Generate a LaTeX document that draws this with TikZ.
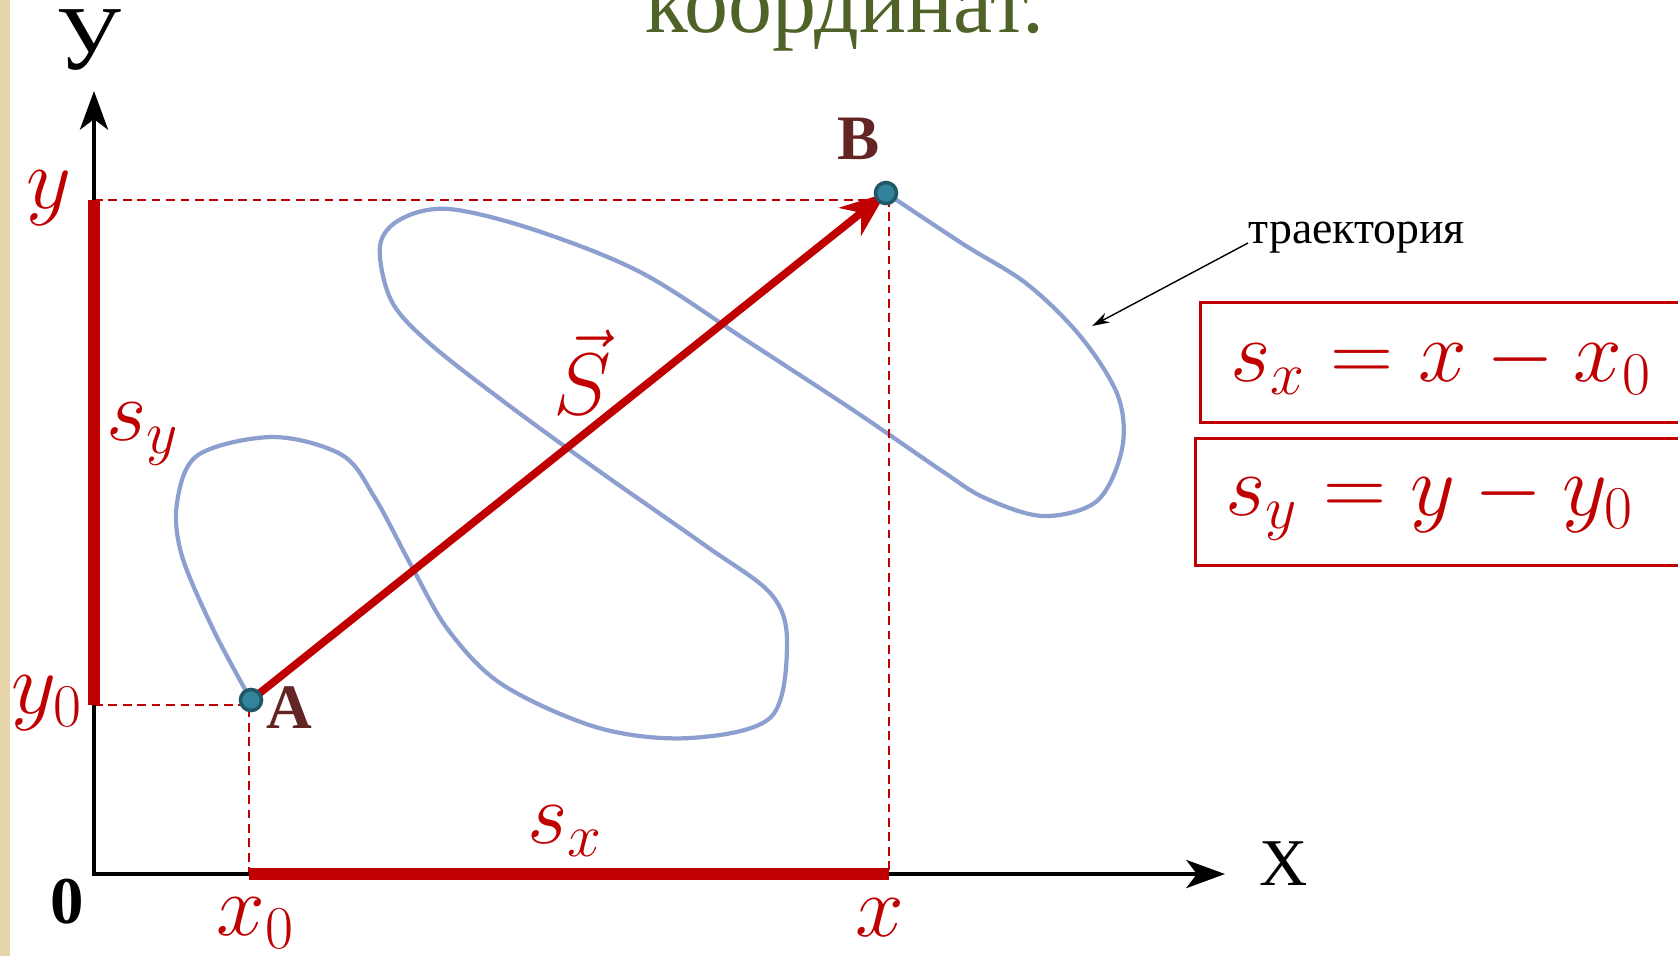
\documentclass[tikz,border=0pt]{standalone}
\usepackage{fontspec}
\setmainfont{Liberation Serif}
\usepackage{amsmath}
\usetikzlibrary{arrows.meta}
\usetikzlibrary{backgrounds}
\definecolor{colR}{HTML}{C00000}
\definecolor{colB}{HTML}{8C9FCF}
\definecolor{colT}{HTML}{31849B}
\definecolor{colT2}{HTML}{215868}
\definecolor{colD}{HTML}{632523}
\definecolor{colG}{HTML}{4F6228}
\definecolor{colS}{HTML}{E5D5A9}

\begin{document}
\begin{tikzpicture}[x=0.01cm, y=-0.01cm]
    \tikzstyle{pnt} = [circle, fill=colT, draw=colT2, line width=1pt, inner sep=0pt, minimum size=6pt];
    \tikzstyle{lbl} = [colR, font=\fontsize{24}{28}\selectfont, inner sep=0pt];
    \tikzstyle{big} = [colD, font=\bfseries\fontsize{18}{20}\selectfont, inner sep=0pt];
    \tikzstyle{axl} = [font=\fontsize{19}{22}\selectfont, inner sep=0pt];
    \tikzstyle{eqb} = [draw=colR, line width=0.85pt, colR, font=\fontsize{24}{28}\selectfont, anchor=north west, text width=4.6cm, inner xsep=0.3cm, align=left];
    \tikzstyle{dsh} = [colR, line width=0.6pt, dash pattern=on 2.5pt off 1.6pt];
    \useasboundingbox (0,0) rectangle (1678,956);
    \fill[colS] (0,0) rectangle (10,956);

    \coordinate (O)  at (94,874);
    \coordinate (Xe) at (1225,874);
    \coordinate (Ye) at (94,91);
    \coordinate (yA) at (94,705);
    \coordinate (yB) at (94,200);
    \coordinate (xA) at (249,874);
    \coordinate (xB) at (889,874);
    \coordinate (cA) at (249,705);
    \coordinate (cB) at (889,200);
    \coordinate (tip) at (1092,326);

    \node (A) at (251,700) [pnt]{};
    \node (B) at (886,193) [pnt]{};

    \node (lA)  at (289,708) [big]{A};
    \node (lB)  at (859,139) [big]{B};
    \node (l0)  at (67,902)  [axl, font=\bfseries\fontsize{19}{22}\selectfont]{0};
    \node (lY)  at (89,40)   [axl, font=\fontsize{26}{30}\selectfont]{У};
    \node (lX)  at (1284,864) [axl]{Х};
    \node (y_1) at (49,198)  [lbl]{$y$};
    \node (y_0) at (47,703)  [lbl]{$y_0$};
    \node (x_0) at (256,923) [lbl]{$x_0$};
    \node (x_1) at (880,918) [lbl]{$x$};
    \node (s_x) at (565,831) [lbl]{$s_x$};
    \node (s_y) at (143,434) [lbl]{$s_y$};
    \node (vS)  at (582,372) [lbl]{$\vec{S}$};

    \node (eqx) at (1199,301) [eqb, minimum height=1.2cm]{$s_x = x - x_0$};
    \node (eqy) at (1194,437) [eqb, minimum height=1.27cm]{$s_y = y - y_0$};

    \node (traj) at (1248,243) [anchor=base west, inner sep=0pt, font=\fontsize{13}{15}\selectfont]{траектория};
    \node (title) at (845,32) [anchor=base, inner sep=0pt, colG, font=\fontsize{25}{29}\selectfont]{координат.};

    \draw[-{Stealth[length=5pt, width=3pt]}, line width=0.4pt] (traj.base west) -- (tip);

    \begin{scope}[on background layer]
      \draw[colB, line width=1.2pt] plot[smooth, tension=0.55] coordinates {
        (A.center) (214,631) (182,556) (177,503) (198,455) (273,437) (342,455)
        (375,498) (412,567) (449,631) (503,685) (599,728) (690,738) (771,717)
        (787,642) (771,594) (706,546) (599,471) (503,401) (428,342) (391,300)
        (380,246) (401,219) (449,209) (535,230) (642,273) (749,342) (856,412)
        (942,471) (985,498) (1043,516) (1097,501) (1122,449) (1118,396)
        (1081,337) (1027,284) (963,244) (B.center)};
      \draw[dsh] (yA) -- (cA) -- (xA);
      \draw[dsh] (yB) -- (cB) -- (xB);
      \draw[line width=1.1pt, {Stealth[length=11pt, width=8pt, inset=3pt]}-{Stealth[length=11pt, width=8pt, inset=3pt]}] (Ye) -- (O) -- (Xe);
      \draw[colR, line width=3.2pt] (yA) -- (yB);
      \draw[colR, line width=3.2pt] (xA) -- (xB);
      \draw[colR, line width=2.2pt, -{Stealth[length=13pt, width=10pt, inset=4pt]}] (A.center) -- (B.center);
    \end{scope}
\end{tikzpicture}
\end{document}
